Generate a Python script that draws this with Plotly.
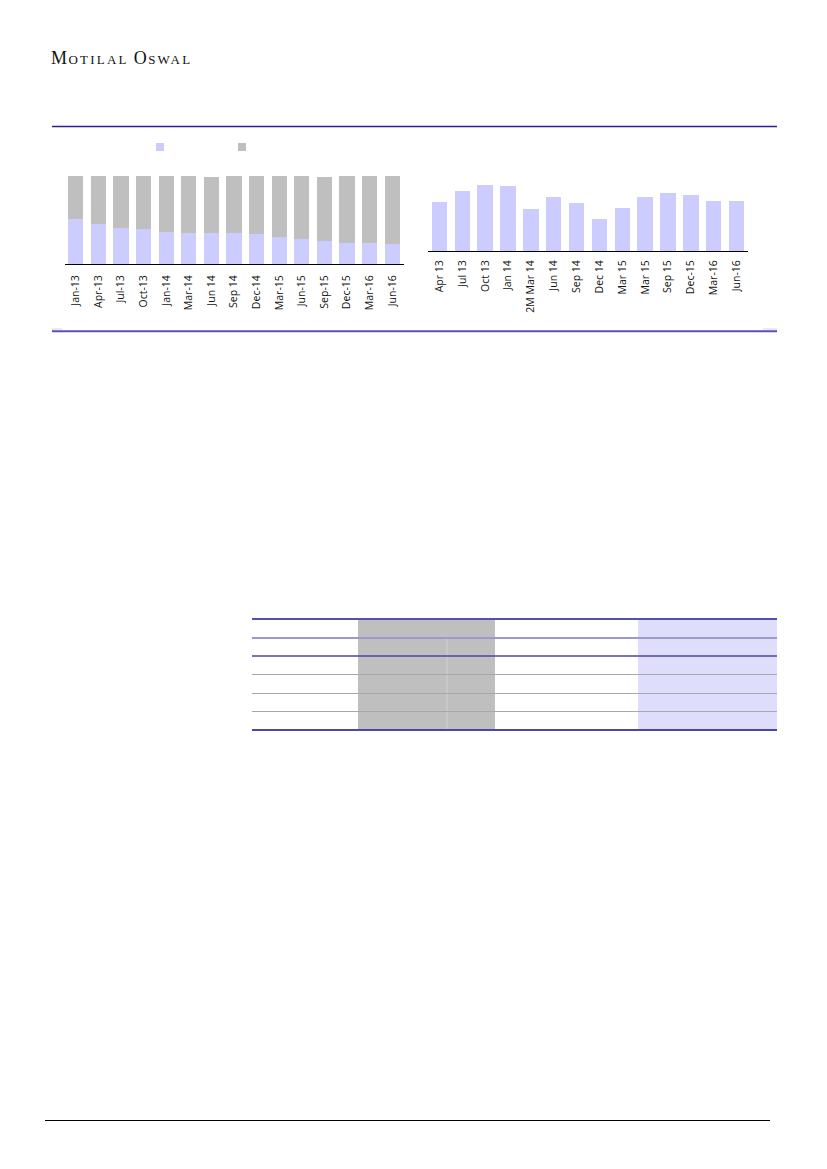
import plotly.graph_objects as go

W, H = 827, 1169

# ---- data ----
mix_labels = ["Jan-13", "Apr-13", "Jul-13", "Oct-13", "Jan-14", "Mar-14", "Jun 14", "Sep 14",
              "Dec-14", "Mar-15", "Jun-15", "Sep-15", "Dec-15", "Mar-16", "Jun-16"]
mix_lavender = [51, 45, 41, 40, 36, 35, 35, 35, 34, 31, 28, 26, 24, 24, 23]
mix_gray = [49, 55, 59, 60, 64, 65, 64, 65, 66, 69, 72, 73, 76, 76, 77]

bar_labels = ["Apr 13", "Jul 13", "Oct 13", "Jan 14", "2M Mar 14", "Jun 14", "Sep 14", "Dec 14",
              "Mar 15", "Mar 15", "Sep 15", "Dec-15", "Mar-16", "Jun-16"]
bar_values = [48.7, 60.3, 66.0, 65.0, 42.0, 54.0, 48.0, 31.7, 43.3, 54.0, 58.3, 56.3, 50.3, 50.3]

LAV = "#CCCCFF"
GRY = "#BFBFBF"


def px_x(x):
    return x / W


def px_y(y):
    return 1 - y / H


fig = go.Figure()

idx1 = list(range(len(mix_labels)))
fig.add_trace(go.Bar(x=idx1, y=mix_lavender, marker=dict(color=LAV, line=dict(width=0)),
                     xaxis="x", yaxis="y", showlegend=False))
fig.add_trace(go.Bar(x=idx1, y=mix_gray, marker=dict(color=GRY, line=dict(width=0)),
                     xaxis="x", yaxis="y", showlegend=False))
# legend keys (no text in reference)
fig.add_trace(go.Scatter(x=[None], y=[None], mode="markers", name=" ",
                         marker=dict(symbol="square", size=8, color=LAV), xaxis="x", yaxis="y"))
fig.add_trace(go.Scatter(x=[None], y=[None], mode="markers", name=" ",
                         marker=dict(symbol="square", size=8, color=GRY), xaxis="x", yaxis="y"))

idx2 = list(range(len(bar_labels)))
fig.add_trace(go.Bar(x=idx2, y=bar_values, marker=dict(color=LAV, line=dict(width=0)),
                     xaxis="x2", yaxis="y2", showlegend=False))

tickfont = dict(family="Open Sans, Liberation Sans, sans-serif", size=10.5, color="#111111")

shapes = []
# chart frame lines
shapes.append(dict(type="line", xref="paper", yref="paper", x0=px_x(52), x1=px_x(777),
                   y0=px_y(126.5), y1=px_y(126.5), line=dict(color="#2A1C9A", width=1.3)))
shapes.append(dict(type="line", xref="paper", yref="paper", x0=px_x(52), x1=px_x(62),
                   y0=px_y(329), y1=px_y(329), line=dict(color="#D4D2EE", width=1)))
shapes.append(dict(type="line", xref="paper", yref="paper", x0=px_x(763), x1=px_x(777),
                   y0=px_y(329), y1=px_y(329), line=dict(color="#D4D2EE", width=1)))
shapes.append(dict(type="line", xref="paper", yref="paper", x0=px_x(52), x1=px_x(777),
                   y0=px_y(331.3), y1=px_y(331.3), line=dict(color="#5A50B4", width=2)))

# table skeleton
shapes.append(dict(type="rect", xref="paper", yref="paper", x0=px_x(358), x1=px_x(495),
                   y0=px_y(619), y1=px_y(730), fillcolor="#BFBFBF", line=dict(width=0), layer="below"))
shapes.append(dict(type="rect", xref="paper", yref="paper", x0=px_x(638), x1=px_x(777),
                   y0=px_y(619), y1=px_y(730), fillcolor="#DEDEFC", line=dict(width=0), layer="below"))
shapes.append(dict(type="line", xref="paper", yref="paper", x0=px_x(447), x1=px_x(447),
                   y0=px_y(638), y1=px_y(730), line=dict(color="#D2D2D2", width=1)))
for yy, col, wd in [(619, "#5550A8", 2), (638, "#9C99CC", 2), (656, "#4C47A6", 1.5),
                    (674.5, "#A8A8A8", 1), (693.5, "#A8A8A8", 1), (711.5, "#A8A8A8", 1),
                    (730, "#4C47A6", 2)]:
    shapes.append(dict(type="line", xref="paper", yref="paper", x0=px_x(252), x1=px_x(777),
                       y0=px_y(yy), y1=px_y(yy), line=dict(color=col, width=wd)))

# footer rule
shapes.append(dict(type="line", xref="paper", yref="paper", x0=px_x(45), x1=px_x(770),
                   y0=px_y(1120.5), y1=px_y(1120.5), line=dict(color="#000000", width=1)))

header = ("<span style='font-size:18px;letter-spacing:1.5px'>M</span>"
          "<span style='letter-spacing:2.2px'>OTILAL </span>"
          "<span style='font-size:18px;letter-spacing:1.5px'>O</span>"
          "<span style='letter-spacing:2.2px'>SWAL</span>")

fig.update_layout(
    width=W, height=H,
    margin=dict(l=0, r=0, t=0, b=0),
    paper_bgcolor="white", plot_bgcolor="white",
    barmode="stack", bargap=0.33,
    showlegend=True,
    legend=dict(orientation="h", x=px_x(140), y=px_y(147), xanchor="left", yanchor="middle",
                traceorder="normal",
                entrywidth=37, entrywidthmode="pixels", bgcolor="rgba(0,0,0,0)",
                font=dict(size=8), itemclick=False, itemdoubleclick=False),
    xaxis=dict(domain=[px_x(64.5), px_x(403.5)], range=[-0.5, 14.5], anchor="y",
               tickmode="array", tickvals=idx1, ticktext=mix_labels, tickangle=-90,
               tickfont=tickfont, showline=True, linecolor="#000000", linewidth=1,
               ticklabelstandoff=6,
               ticks="", showgrid=False, zeroline=False, fixedrange=True),
    yaxis=dict(domain=[px_y(264), px_y(176)], range=[0, 100], anchor="x",
               visible=False, fixedrange=True),
    xaxis2=dict(domain=[px_x(428), px_x(748)], range=[-0.5, 13.5], anchor="y2",
                tickmode="array", tickvals=idx2, ticktext=bar_labels, tickangle=-90,
                tickfont=tickfont, showline=True, linecolor="#000000", linewidth=1,
                ticklabelstandoff=4,
                ticks="", showgrid=False, zeroline=False, fixedrange=True),
    yaxis2=dict(domain=[px_y(251), px_y(171)], range=[0, 80], anchor="x2",
                visible=False, fixedrange=True),
    shapes=shapes,
    annotations=[dict(text=header, xref="paper", yref="paper", x=px_x(49), y=px_y(58),
                      xanchor="left", yanchor="middle", showarrow=False,
                      font=dict(family="Liberation Serif, DejaVu Serif, serif", size=13,
                                color="#111111"))],
)

fig.write_html("out.html", config={"displayModeBar": False},
               post_script="document.body.style.margin='0';")
